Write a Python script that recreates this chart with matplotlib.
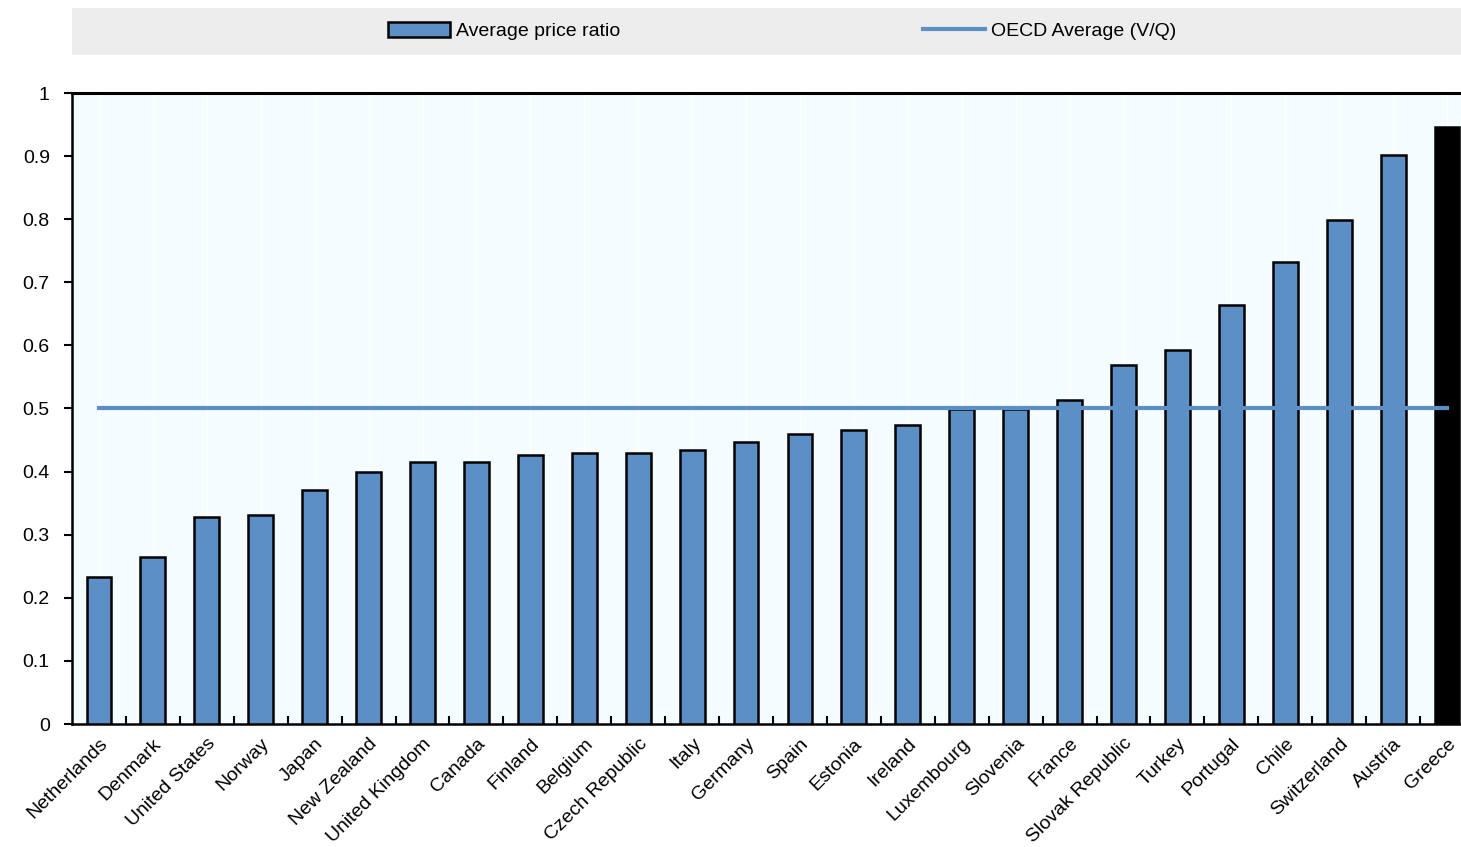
import matplotlib
matplotlib.use("Agg")
import matplotlib.pyplot as plt
from matplotlib.patches import Rectangle, Patch
from matplotlib.lines import Line2D

countries = ["Netherlands", "Denmark", "United States", "Norway", "Japan", "New Zealand",
             "United Kingdom", "Canada", "Finland", "Belgium", "Czech Republic", "Italy",
             "Germany", "Spain", "Estonia", "Ireland", "Luxembourg", "Slovenia", "France",
             "Slovak Republic", "Turkey", "Portugal", "Chile", "Switzerland", "Austria", "Greece"]
ratio = [0.233, 0.265, 0.328, 0.331, 0.371, 0.399, 0.415, 0.415, 0.426, 0.429, 0.429, 0.434,
         0.447, 0.460, 0.466, 0.474, 0.499, 0.499, 0.513, 0.569, 0.593, 0.664, 0.732, 0.799,
         0.902, 0.946]
oecd_avg = 0.5
yticks = [0, 0.1, 0.2, 0.3, 0.4, 0.5, 0.6, 0.7, 0.8, 0.9, 1]
ytick_labels = ["0", "0.1", "0.2", "0.3", "0.4", "0.5", "0.6", "0.7", "0.8", "0.9", "1"]

plt.rcParams['font.family'] = ['Liberation Sans', 'DejaVu Sans']

W, H = 1461, 847
fig = plt.figure(figsize=(W / 100, H / 100), dpi=100)

# legend band
fig.patches.append(Rectangle((72 / W, 1 - 55 / H), (W - 72) / W, 47 / H,
                             transform=fig.transFigure, facecolor="#EDEDED",
                             edgecolor="none", zorder=0))

left, right, top, bottom = 72, 1474, 93, 724
ax = fig.add_axes([left / W, 1 - bottom / H, (right - left) / W, (bottom - top) / H])
ax.set_facecolor("#F4FCFE")

bar_color = "#5B8FC6"
n = len(countries)
x = list(range(n))
colors = [bar_color] * (n - 1) + ["black"]
bars = ax.bar(x, ratio, width=0.46, color=colors, edgecolor="black", linewidth=1.8, zorder=3)
line, = ax.plot([0, n - 1], [oecd_avg, oecd_avg], color="#5B8FC6", linewidth=3, zorder=4)

for xi in x:
    ax.axvline(xi, color="white", linewidth=1, zorder=1)

ax.set_xlim(-0.5, n - 0.5)
ax.set_ylim(0, 1)
ax.set_yticks(yticks)
ax.set_yticklabels(ytick_labels, fontsize=14)
ax.set_xticks(x)
ax.set_xticklabels(countries, rotation=45, ha="right", rotation_mode="anchor", fontsize=14)
ax.tick_params(axis="x", length=0, pad=8)
ax.set_xticks([i + 0.5 for i in range(n - 1)], minor=True)
ax.tick_params(axis="x", which="minor", direction="in", length=6, width=1.5)
ax.tick_params(axis="y", direction="out", length=6, width=1.5, pad=10)
for s in ["left", "bottom"]:
    ax.spines[s].set_linewidth(1.8)
ax.spines["top"].set_linewidth(2.2)
ax.spines["right"].set_visible(False)

handles = [Patch(facecolor=bar_color, edgecolor="black", linewidth=1.8),
           Line2D([0], [0], color="#5B8FC6", linewidth=3)]
fig.legend(handles, ["Average price ratio", "OECD Average (V/Q)"], ncol=2,
           loc="center", bbox_to_anchor=(782 / W, 1 - 31 / H), frameon=False,
           fontsize=14, handlelength=3.2, handleheight=0.8, handletextpad=0.3,
           columnspacing=15.6)

fig.savefig("out.png", dpi=100)
